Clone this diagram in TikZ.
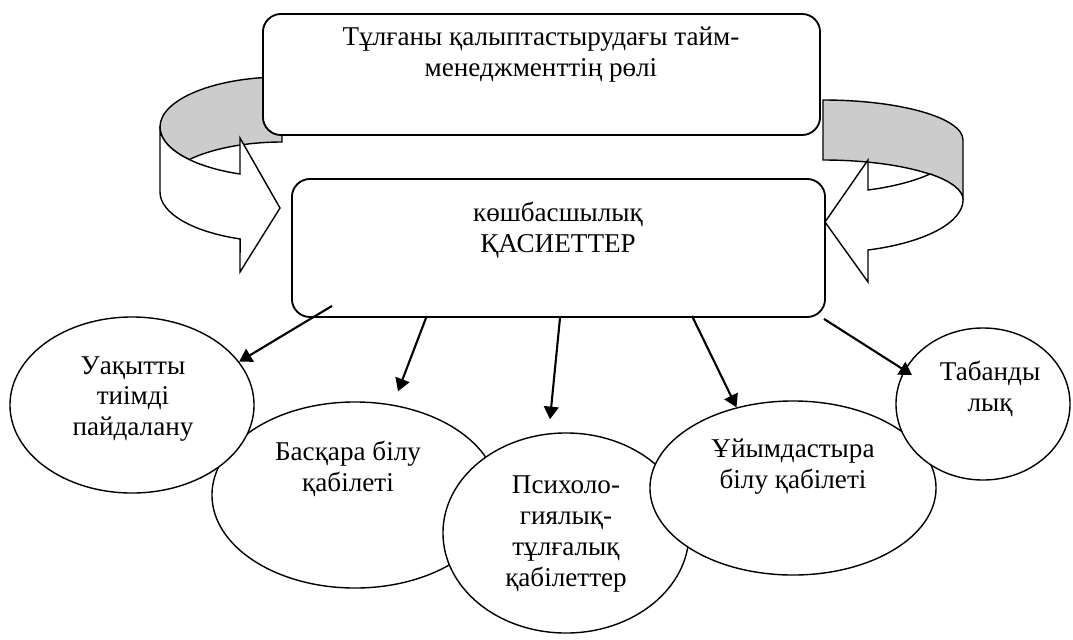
\documentclass[tikz,border=0pt]{standalone}
\usepackage{fontspec}
\setmainfont{Liberation Serif}
\usetikzlibrary{arrows.meta}
\usetikzlibrary{shapes.geometric}

\tikzset{
    panel/.style={draw=black,line width=1.3pt,rounded corners=0.45cm,fill=white,inner sep=0pt},
    oval/.style={draw=black,ellipse,line width=1pt,fill=white,inner sep=0pt},
    lbl/.style={align=center,inner sep=0pt,font=\fontsize{19.3}{22}\selectfont},
    band/.style={draw=black,line width=1pt},
    link/.style={black,line width=1.5pt,-{Triangle[length=9pt,width=10.5pt]}},
}

\begin{document}
\begin{tikzpicture}[x=0.025cm,y=-0.025cm]
            \useasboundingbox (0,0) rectangle (1073,639);

            \filldraw[band,fill=gray!40] (160,127) arc[start angle=180,end angle=270,x radius=122,y radius=50] -- (282,142) arc[start angle=270,end angle=220.5,x radius=122,y radius=50] arc[start angle=139.5,end angle=180,x radius=122,y radius=50] -- cycle;
            \filldraw[band,fill=white] (160,127) -- (160,192) arc[start angle=180,end angle=110.1,x radius=122,y radius=50] -- (240,272) -- (280,208) -- (240,138) -- (240,174) arc[start angle=110.1,end angle=180,x radius=122,y radius=50] -- cycle;

            \filldraw[band,fill=gray!40] (823,100) arc[start angle=270,end angle=360,x radius=140,y radius=40] -- (963,200) arc[start angle=0,end angle=-90,x radius=140,y radius=40] -- cycle;
            \filldraw[band,fill=white] (930,174) arc[start angle=-40.2,end angle=0,x radius=140,y radius=40] arc[start angle=0,end angle=71.3,x radius=140,y radius=53] -- (868,282) -- (825,222) -- (868,160) -- (868,190) arc[start angle=71.3,end angle=40.2,x radius=140,y radius=53] -- cycle;

            \node[panel,minimum width=13.925cm,minimum height=3.025cm] (role) at (541.5,74.5) {};
            \node[panel,minimum width=13.325cm,minimum height=3.45cm] (traits) at (558.5,248) {};
            \node[lbl] (roletxt) at (541,55) {Тұлғаны қалыптастырудағы тайм-\\менеджменттің рөлі};
            \node[lbl] (traitstxt) at (558,230) {көшбасшылық\\ҚАСИЕТТЕР};

            \node[oval,minimum width=7.15cm,minimum height=4.65cm] (skill) at (355,495) {};
            \node[oval,minimum width=6.15cm,minimum height=5cm] (psy) at (566,533) {};
            \node[oval,minimum width=7.15cm,minimum height=4.35cm] (org) at (793,488) {};
            \node[oval,minimum width=4.35cm,minimum height=3.8cm] (firm) at (983,404) {};
            \node[oval,minimum width=6.1cm,minimum height=4.4cm] (time) at (132,405) {};

            \node[lbl] (timetxt) at (133,399) {Уақытты\\тиімді\\пайдалану};
            \node[lbl] (skilltxt) at (348,469) {Басқара білу\\қабілеті};
            \node[lbl] (psytxt) at (566,534) {Психоло-\\гиялық-\\тұлғалық\\қабілеттер};
            \node[lbl] (orgtxt) at (793,467) {Ұйымдастыра\\білу қабілеті};
            \node[lbl] (firmtxt) at (990,389) {Табанды\\лық};

            \draw[link] ([shift={(-226.5,-12)}]traits.south) -- (time.22);
            \draw[link] ([shift={(-132.5,0)}]traits.south) -- ([shift={(43,-10)}]skill.north);
            \draw[link] ([shift={(1.5,0)}]traits.south) -- ([shift={(-16,-13)}]psy.north);
            \draw[link] ([shift={(133.5,-2)}]traits.south) -- (org.125);
            \draw[link] ([shift={(-2,1)}]traits.south east) -- ([shift={(-71,-29)}]firm.center);
\end{tikzpicture}
\end{document}
